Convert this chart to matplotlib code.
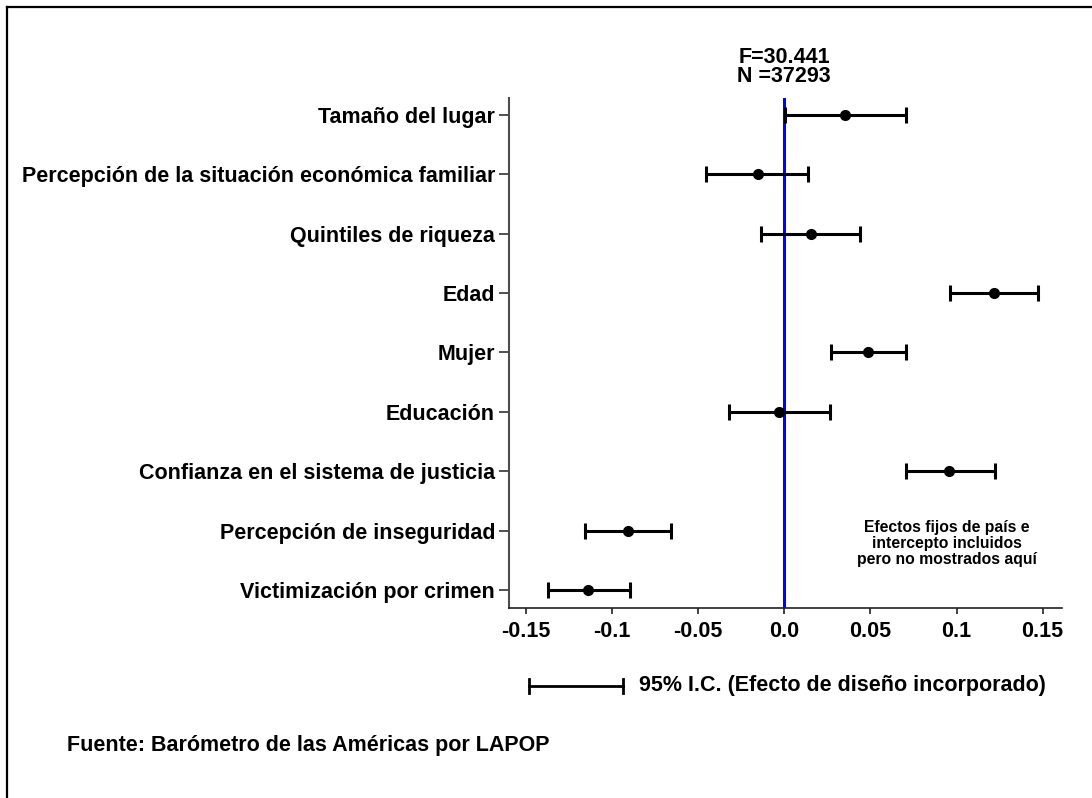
import matplotlib
matplotlib.use("Agg")
import matplotlib.pyplot as plt
from matplotlib.lines import Line2D

plt.rcParams['font.family'] = ['Liberation Sans', 'DejaVu Sans']
plt.rcParams['font.weight'] = 'bold'

labels = ["Tamaño del lugar",
          "Percepción de la situación económica familiar",
          "Quintiles de riqueza",
          "Edad",
          "Mujer",
          "Educación",
          "Confianza en el sistema de justicia",
          "Percepción de inseguridad",
          "Victimización por crimen"]
coef = [0.0355, -0.0154, 0.0156, 0.1217, 0.0488, -0.0030, 0.0958, -0.0909, -0.1136]
ci_low = [0.0002, -0.0453, -0.0133, 0.0962, 0.0272, -0.0323, 0.0706, -0.1153, -0.1369]
ci_high = [0.0706, 0.0141, 0.0441, 0.1471, 0.0708, 0.0265, 0.1223, -0.0657, -0.0896]
xticks = [-0.15, -0.1, -0.05, 0.0, 0.05, 0.1, 0.15]
xticklabels = ["-0.15", "-0.1", "-0.05", "0.0", "0.05", "0.1", "0.15"]
stats_text = ["F=30.441", "N =37293"]
note_text = "Efectos fijos de país e\nintercepto incluidos\npero no mostrados aquí"
legend_text = "95% I.C. (Efecto de diseño incorporado)"
source_text = "Fuente: Barómetro de las Américas por LAPOP"

FS = 15.5

fig = plt.figure(figsize=(10.92, 7.98), dpi=100)
ax_left, ax_right, ax_bottom, ax_top = 0.4661, 0.9725, 0.2387, 0.8772
ax = fig.add_axes([ax_left, ax_bottom, ax_right - ax_left, ax_top - ax_bottom])

n = len(labels)
ypos = [n - 1 - i for i in range(n)]
xerr = [[c - l for c, l in zip(coef, ci_low)], [h - c for c, h in zip(coef, ci_high)]]

ax.axvline(0, color='#0000ff', lw=2.2, zorder=1)
ax.errorbar(coef, ypos, xerr=xerr, fmt='o', color='black', ecolor='black',
            elinewidth=2.2, capsize=6, capthick=2.2, markersize=7, zorder=3)

xmin, xmax = -0.1597, 0.1612
ax.set_xlim(xmin, xmax)
ax.set_ylim(-0.295, n - 1 + 0.286)
ax.set_yticks(ypos)
ax.set_yticklabels(labels, fontsize=FS, fontweight='bold')
ax.set_xticks(xticks)
ax.set_xticklabels(xticklabels, fontsize=FS, fontweight='bold')

for s in ['top', 'right']:
    ax.spines[s].set_visible(False)
ax.spines['left'].set_color('#4d4d4d')
ax.spines['left'].set_linewidth(1.5)
ax.spines['bottom'].set_color('#222222')
ax.spines['bottom'].set_linewidth(1.2)
ax.tick_params(axis='y', direction='out', length=7, width=1.2, color='#333333', pad=3)
ax.tick_params(axis='x', direction='out', length=4.5, width=1.2, color='#222222', pad=5)

# F and N annotations
zx = ax_left + (0.0 - xmin) / (xmax - xmin) * (ax_right - ax_left)
fig.text(zx, 0.928, stats_text[0], ha='center', va='center', fontsize=FS, fontweight='bold')
fig.text(zx, 0.904, stats_text[1], ha='center', va='center', fontsize=FS, fontweight='bold')

ax.text(0.0945, 0.785, note_text, ha='center', va='center', fontsize=11.3,
        fontweight='bold', linespacing=1.08)

# legend bar
ly = 0.1404
x0, x1 = 0.4844, 0.5705
ch = 0.0088
fig.add_artist(Line2D([x0, x1], [ly, ly], transform=fig.transFigure, color='black', lw=2))
fig.add_artist(Line2D([x0, x0], [ly - ch, ly + ch], transform=fig.transFigure, color='black', lw=2))
fig.add_artist(Line2D([x1, x1], [ly - ch, ly + ch], transform=fig.transFigure, color='black', lw=2))
fig.text(0.585, ly, legend_text, ha='left', va='center', fontsize=FS, fontweight='bold')

fig.text(0.0614, 0.0664, source_text, ha='left', va='center', fontsize=FS, fontweight='bold')

# outer frame (top and left edges)
fx, fy = 0.0064, 0.9912
fig.add_artist(Line2D([fx, 1.0], [fy, fy], transform=fig.transFigure, color='black', lw=1.6))
fig.add_artist(Line2D([fx, fx], [0.0, fy], transform=fig.transFigure, color='black', lw=1.6))

fig.savefig("out.png", dpi=100)
